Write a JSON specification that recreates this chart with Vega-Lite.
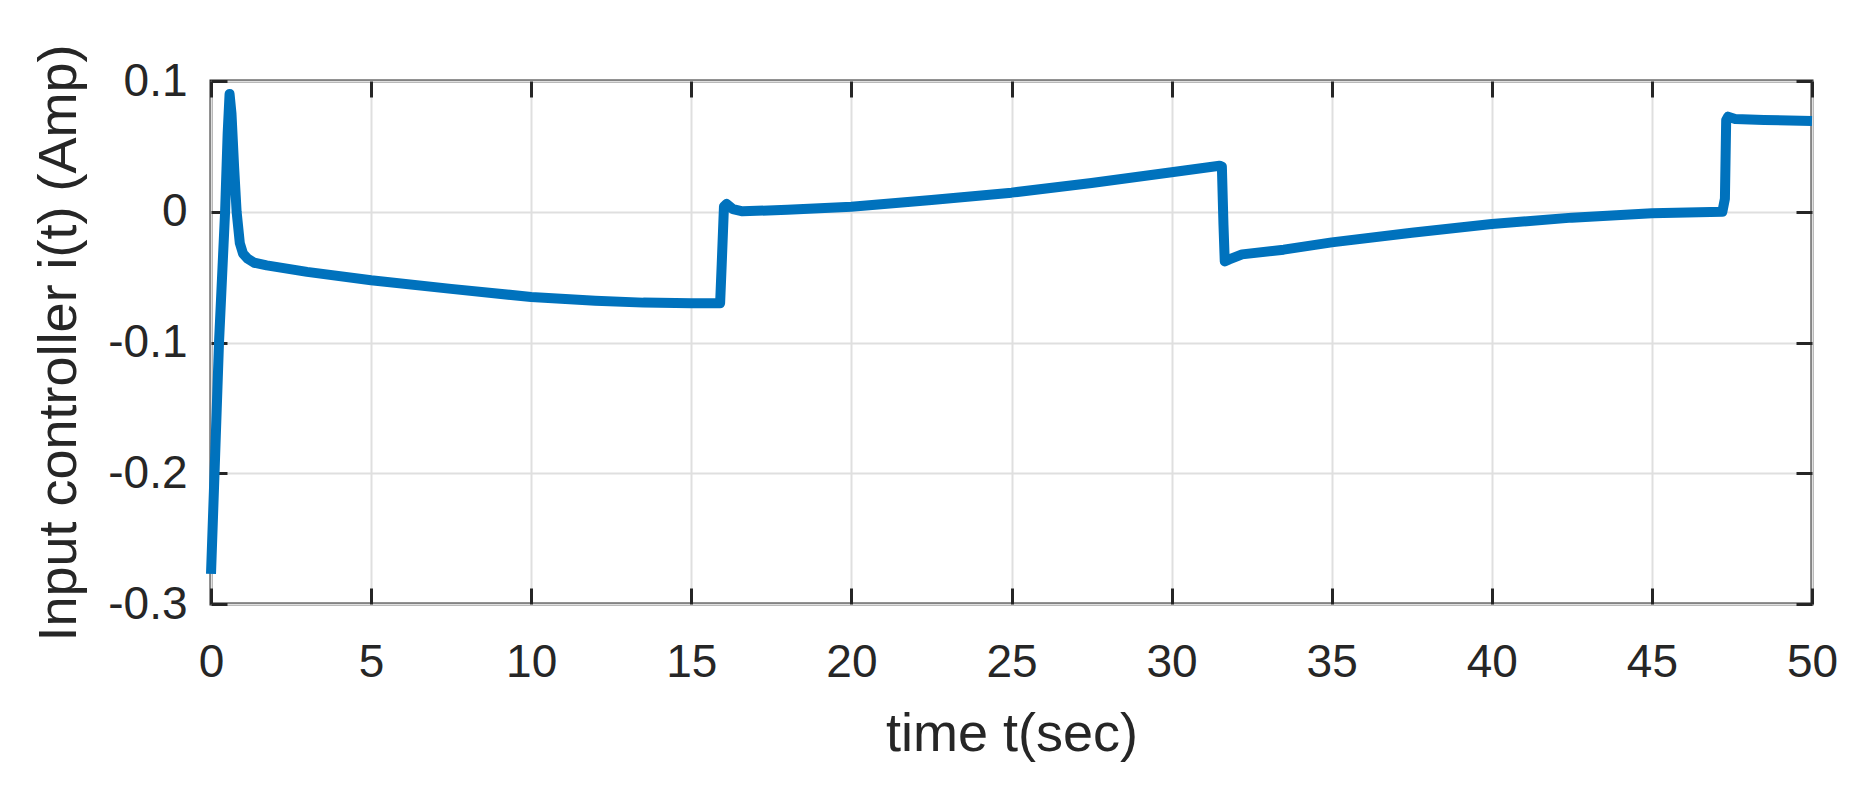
{
  "$schema": "https://vega.github.io/schema/vega-lite/v6.json",
  "width": 1601,
  "height": 523,
  "autosize": {"type": "none"},
  "padding": {"left": 211, "top": 81, "right": 58, "bottom": 186},
  "background": "white",
  "config": {
    "view": {"stroke": "#262626", "strokeWidth": 3},
    "font": "Liberation Sans",
    "axis": {
      "labelFont": "Liberation Sans",
      "titleFont": "Liberation Sans",
      "labelFontSize": 46,
      "titleFontSize": 54,
      "titleFontWeight": "normal",
      "labelColor": "#262626",
      "titleColor": "#262626",
      "tickColor": "#262626",
      "tickWidth": 3,
      "tickSize": -16,
      "domain": false,
      "labelFlush": false,
      "labelOverlap": false,
      "gridColor": "#dfdfdf",
      "gridWidth": 2,
      "gridOpacity": 1
    }
  },
  "data": {
    "values": [
      {"t": 0, "i": -0.277},
      {"t": 0.11, "i": -0.2},
      {"t": 0.25, "i": -0.1},
      {"t": 0.44, "i": 0.0},
      {"t": 0.52, "i": 0.06},
      {"t": 0.58, "i": 0.09},
      {"t": 0.64, "i": 0.075},
      {"t": 0.72, "i": 0.035},
      {"t": 0.8, "i": 0.0},
      {"t": 0.9, "i": -0.024},
      {"t": 1.0, "i": -0.032},
      {"t": 1.15, "i": -0.036},
      {"t": 1.35, "i": -0.039},
      {"t": 1.74, "i": -0.041},
      {"t": 3, "i": -0.046},
      {"t": 5, "i": -0.0524},
      {"t": 7.5, "i": -0.059},
      {"t": 10, "i": -0.0652},
      {"t": 12, "i": -0.068},
      {"t": 13.5, "i": -0.0695},
      {"t": 15, "i": -0.07},
      {"t": 15.9, "i": -0.07},
      {"t": 15.95, "i": -0.04},
      {"t": 16.02, "i": 0.004},
      {"t": 16.1, "i": 0.006},
      {"t": 16.3, "i": 0.002},
      {"t": 16.6, "i": 0.0003},
      {"t": 18, "i": 0.0015},
      {"t": 20, "i": 0.0039},
      {"t": 22.5, "i": 0.009},
      {"t": 25, "i": 0.0146},
      {"t": 27.5, "i": 0.022},
      {"t": 30, "i": 0.0302},
      {"t": 31.5, "i": 0.0352},
      {"t": 31.57, "i": 0.0345},
      {"t": 31.62, "i": -0.01},
      {"t": 31.66, "i": -0.038},
      {"t": 31.8, "i": -0.0365},
      {"t": 32.2, "i": -0.0326},
      {"t": 33.5, "i": -0.029},
      {"t": 35, "i": -0.0234},
      {"t": 37.5, "i": -0.016},
      {"t": 40, "i": -0.0094},
      {"t": 42.5, "i": -0.0045},
      {"t": 45, "i": -0.0012},
      {"t": 47.2, "i": 0.0},
      {"t": 47.28, "i": 0.01},
      {"t": 47.32, "i": 0.07},
      {"t": 47.38, "i": 0.0727},
      {"t": 47.6, "i": 0.071},
      {"t": 48.5, "i": 0.0702},
      {"t": 50, "i": 0.0694}
    ]
  },
  "layer": [
    {
      "mark": {"type": "line", "color": "#0072BD", "strokeWidth": 10, "strokeJoin": "round", "strokeCap": "butt"},
      "encoding": {
        "x": {
          "field": "t", "type": "quantitative",
          "scale": {"domain": [0, 50], "nice": false, "zero": false},
          "axis": {
            "orient": "bottom",
            "title": "time t(sec)",
            "values": [0, 5, 10, 15, 20, 25, 30, 35, 40, 45, 50],
            "format": "d",
            "labelPadding": 52,
            "labelBaseline": "top",
            "titleBaseline": "alphabetic",
            "titleY": 146
          }
        },
        "y": {
          "field": "i", "type": "quantitative",
          "scale": {"domain": [-0.3, 0.1], "nice": false, "zero": false},
          "axis": {
            "orient": "left",
            "title": "Input controller i(t) (Amp)",
            "values": [-0.3, -0.2, -0.1, 0, 0.1],
            "format": "~g",
            "labelExpr": "replace(datum.label, '\u2212', '-')",
            "labelPadding": 40,
            "titleBaseline": "alphabetic",
            "titleAngle": -90,
            "titleX": -136
          }
        }
      }
    },
    {
      "mark": {"type": "line", "strokeOpacity": 0},
      "encoding": {
        "x": {
          "field": "t", "type": "quantitative",
          "axis": {"orient": "top", "labels": false, "title": null, "grid": false, "values": [0, 5, 10, 15, 20, 25, 30, 35, 40, 45, 50]}
        },
        "y": {
          "field": "i", "type": "quantitative",
          "axis": {"orient": "right", "labels": false, "title": null, "grid": false, "values": [-0.3, -0.2, -0.1, 0, 0.1]}
        }
      }
    }
  ],
  "resolve": {"axis": {"x": "independent", "y": "independent"}}
}
